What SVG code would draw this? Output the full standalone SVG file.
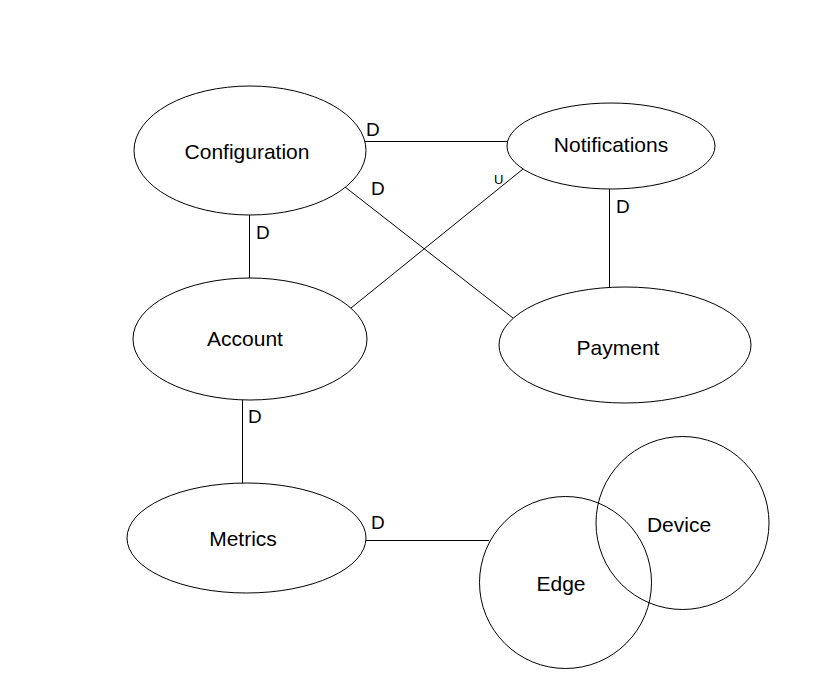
<svg xmlns="http://www.w3.org/2000/svg" width="813" height="695" viewBox="0 0 813 695">
<style>
.n{fill:#fff;stroke:#000;stroke-width:1}
.t{font-family:"Liberation Sans",Arial,sans-serif;font-size:21px;fill:#000;text-anchor:middle}
.l{font-family:"Liberation Sans",Arial,sans-serif;font-size:19px;fill:#000}
.s{font-family:"Liberation Sans",Arial,sans-serif;font-size:13px;fill:#000}
.e{stroke:#000;stroke-width:1;fill:none}
</style>
<rect width="813" height="695" fill="#fff"/>
<g id="connectors">
<line class="e" x1="365" y1="141.5" x2="508" y2="141.5"/>
<line class="e" x1="345" y1="187" x2="513" y2="318"/>
<line class="e" x1="351" y1="308" x2="523" y2="169"/>
<line class="e" x1="249.5" y1="215" x2="249.5" y2="278"/>
<line class="e" x1="609.5" y1="189" x2="609.5" y2="287"/>
<line class="e" x1="242.5" y1="400" x2="242.5" y2="483"/>
<line class="e" x1="366" y1="540.5" x2="489" y2="540.5"/>
<text class="l" x="366" y="136">D</text>
<text class="l" x="371" y="195">D</text>
<text class="s" x="494" y="184">U</text>
<text class="l" x="256" y="239">D</text>
<text class="l" x="616" y="213">D</text>
<text class="l" x="248" y="423">D</text>
<text class="l" x="371" y="529">D</text>
</g>
<g id="configuration">
<ellipse class="n" cx="250" cy="150.5" rx="116" ry="64.5"/>
<text class="t" x="247" y="159">Configuration</text>
</g>
<g id="notifications">
<ellipse class="n" cx="611" cy="146" rx="104" ry="43"/>
<text class="t" x="611" y="152">Notifications</text>
</g>
<g id="account">
<ellipse class="n" cx="250" cy="339" rx="117" ry="61"/>
<text class="t" x="245" y="346">Account</text>
</g>
<g id="payment">
<ellipse class="n" cx="625" cy="345" rx="126" ry="58"/>
<text class="t" x="618" y="355">Payment</text>
</g>
<g id="metrics">
<ellipse class="n" cx="246.5" cy="538" rx="119.5" ry="55"/>
<text class="t" x="243" y="546">Metrics</text>
</g>
<g id="edge">
<circle class="n" cx="565.5" cy="582.5" r="86"/>
<text class="t" x="561" y="591">Edge</text>
</g>
<g id="device">
<circle class="n" cx="682.5" cy="523" r="86.5" style="fill:none"/>
<text class="t" x="679" y="532">Device</text>
</g>
</svg>
